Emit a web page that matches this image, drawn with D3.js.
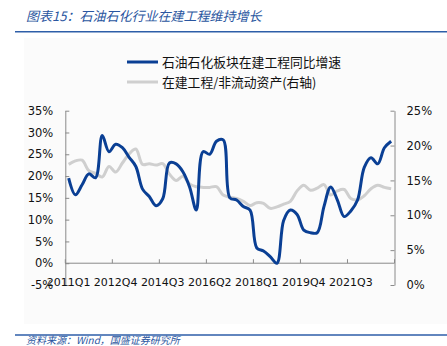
<!DOCTYPE html>
<html><head><meta charset="utf-8">
<script src="https://cdn.jsdelivr.net/npm/d3@7"></script>
<style>
html,body{margin:0;padding:0;background:#fff;}
svg{display:block;}
</style></head>
<body>
<script>
const title = "图表15：石油石化行业在建工程维持增长";
const source = "资料来源：Wind，国盛证券研究所";
const seriesNames = ["石油石化板块在建工程同比增速", "在建工程/非流动资产(右轴)"];
const quarters = [];
for (let y = 2011; y <= 2023; y++) for (let q = 1; q <= 4; q++) { if (quarters.length < 49) quarters.push(y + "Q" + q); }
const tickLabels = ["2011Q1","2012Q4","2014Q3","2016Q2","2018Q1","2019Q4","2021Q3"];
const growth = [19.5,15.7,18.0,20.5,19.6,29.3,25.6,27.3,26.5,24.3,22.2,17.0,15.3,13.2,14.8,23.0,22.8,21.0,17.5,12.2,25.6,25.0,28.0,28.3,15.0,14.5,13.0,12.2,3.5,2.8,1.5,0.0,9.8,12.2,11.2,7.6,7.0,7.0,13.0,17.5,14.5,10.7,12.0,14.5,22.0,24.2,22.8,26.5,28.0];
const ratio = [17.3,17.8,17.9,16.4,16.0,15.5,17.0,16.2,17.5,18.8,19.5,17.3,17.4,17.2,17.4,15.9,15.0,15.6,14.5,14.1,14.0,14.0,14.1,12.9,12.6,12.4,12.0,11.4,11.8,11.7,11.0,11.2,11.6,12.0,13.5,14.3,13.6,13.9,14.4,12.9,13.5,13.7,12.4,12.2,12.8,13.8,14.3,14.0,13.8];
const leftTicks = [-5,0,5,10,15,20,25,30,35];
const rightTicks = [0,5,10,15,20,25];

const W = 447, H = 346;
const svg = d3.select("body").append("svg").attr("width", W).attr("height", H);
const plot = {l: 65.3, r: 394.5, t: 110.7, b: 285};

// faint chart background
svg.append("rect").attr("x", 24).attr("y", 38).attr("width", W - 24).attr("height", 286).attr("fill", "#fbfbfb");

// title
svg.append("text").attr("x", 26).attr("y", 21).attr("fill", "#2a56a0")
  .attr("font-family", "'Noto Sans CJK SC'").attr("font-size", 13).attr("font-style", "italic").text(title);
svg.append("line").attr("x1", 15).attr("x2", W).attr("y1", 31.7).attr("y2", 31.7).attr("stroke", "#2e5ea8").attr("stroke-width", 1.6);
// footer
svg.append("line").attr("x1", 15).attr("x2", W).attr("y1", 335).attr("y2", 335).attr("stroke", "#2e5ea8").attr("stroke-width", 1.6);
svg.append("text").attr("x", 26).attr("y", 343.5).attr("fill", "#2a56a0")
  .attr("font-family", "'Noto Sans CJK SC'").attr("font-size", 10).attr("font-style", "italic").text(source);

const x = d3.scaleBand().domain(quarters).range([plot.l, plot.r]).padding(0);
const yL = d3.scaleLinear().domain([-5, 35]).range([plot.b, plot.t]);
const yR = d3.scaleLinear().domain([0, 25]).range([plot.b, plot.t]);
const cx = d => x(d) + x.bandwidth() / 2;

const axisColor = "#8a8a8a";
const fontAx = "'DejaVu Sans'";

// left axis
const gL = svg.append("g").attr("transform", `translate(${plot.l},0)`)
  .call(d3.axisLeft(yL).tickValues(leftTicks).tickFormat(d => d + "%").tickSizeInner(-4).tickSizeOuter(0).tickPadding(12));
// right axis
const gR = svg.append("g").attr("transform", `translate(${plot.r},0)`)
  .call(d3.axisRight(yR).tickValues(rightTicks).tickFormat(d => d + "%").tickSizeInner(-4).tickSizeOuter(0).tickPadding(12));
[gL, gR].forEach(g => {
  g.select(".domain").attr("stroke", axisColor);
  g.selectAll(".tick line").attr("stroke", axisColor);
  g.selectAll(".tick text").attr("fill", "#111").attr("font-family", fontAx).attr("font-size", 11.5);
});

// x axis at 0%
const tickPos = d3.range(0, 50, 7).map(i => plot.l + i * x.bandwidth());
const gX = svg.append("g");
gX.append("line").attr("x1", plot.l).attr("x2", plot.r).attr("y1", yL(0)).attr("y2", yL(0)).attr("stroke", axisColor);
gX.selectAll("line.tk").data(tickPos).enter().append("line").attr("class", "tk")
  .attr("x1", d => d).attr("x2", d => d).attr("y1", yL(0)).attr("y2", yL(0) - 4).attr("stroke", axisColor);
gX.selectAll("text").data(tickLabels).enter().append("text")
  .attr("x", d => cx(d)).attr("y", 285.5).attr("text-anchor", "middle")
  .attr("font-family", fontAx).attr("font-size", 11).attr("fill", "#111").text(d => d);

// lines
const curve = d3.curveCatmullRom.alpha(0.5);
const lineR = d3.line().x((d, i) => cx(quarters[i])).y(d => yR(d)).curve(curve);
const lineL = d3.line().x((d, i) => cx(quarters[i])).y(d => yL(d)).curve(curve);
svg.append("path").attr("d", lineR(ratio)).attr("fill", "none").attr("stroke", "#cfcfcf").attr("stroke-width", 3).attr("stroke-linejoin", "round");
svg.append("path").attr("d", lineL(growth)).attr("fill", "none").attr("stroke", "#0a3f94").attr("stroke-width", 3).attr("stroke-linejoin", "round");

// legend
const legend = [{name: seriesNames[0], color: "#0a3f94", y: 62}, {name: seriesNames[1], color: "#cfcfcf", y: 82}];
const lg = svg.append("g");
legend.forEach(l => {
  lg.append("line").attr("x1", 127).attr("x2", 158).attr("y1", l.y).attr("y2", l.y).attr("stroke", l.color).attr("stroke-width", 3);
  lg.append("text").attr("x", 162).attr("y", l.y + 4.5).attr("font-family", "'Noto Sans CJK SC'").attr("font-size", 12.8)
    .attr("fill", "#111").text(l.name);
});
</script>
</body></html>
